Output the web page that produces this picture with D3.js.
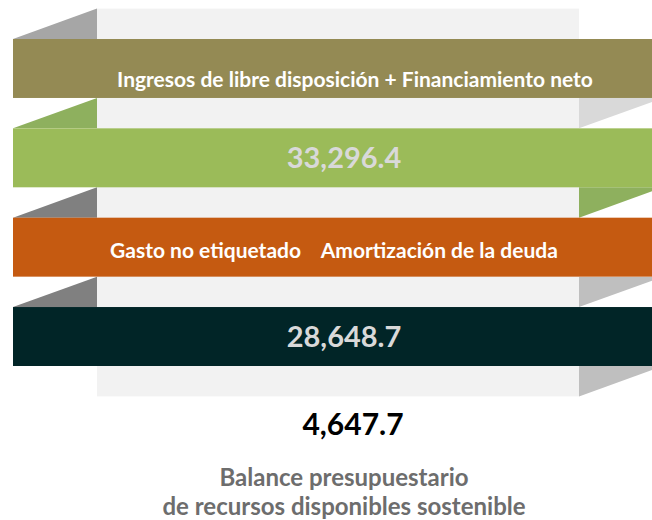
<!DOCTYPE html>
<html>
<head>
<meta charset="utf-8">
<script src="https://cdn.jsdelivr.net/npm/d3@7"></script>
<style>
  body { margin: 0; background: #fff; }
  text { font-family: Lato, "Open Sans", sans-serif; font-weight: bold; }
</style>
</head>
<body>
<div id="chart"></div>
<script>
// rows of the ribbon, top to bottom
var rows = ['ingresos', 'total', 'gasto', 'gastoTotal'];
var rowLabels = ['Ingresos de libre disposición + Financiamiento neto', null,
                 'Gasto no etiquetado    Amortización de la deuda', null];
var values = [null, 33296.4, null, 28648.7];
var balance = 4647.7;
var caption = ['Balance presupuestario', 'de recursos disponibles sostenible'];

var bandColors = ['#948a54', '#9bbb59', '#c55a11', '#012527'];
var leftFold = ['#a6a6a6', '#8eb05e', '#808080', '#808080'];
var rightFold = ['#d9d9d9', '#8eb05e', '#bfbfbf', '#bfbfbf'];

var width = 652, height = 520;
var x0 = 13, x1 = 663, panelX0 = 97, panelX1 = 579;

var fmt = d3.format(',.1f');

var y = d3.scaleBand().domain(rows).range([39, 366]).paddingInner(0.34).paddingOuter(0);
var gap = y.step() - y.bandwidth();

var svg = d3.select('#chart').append('svg')
    .attr('width', width)
    .attr('height', height);

// back panel
svg.append('rect')
    .attr('x', panelX0)
    .attr('y', y(rows[0]) - gap)
    .attr('width', panelX1 - panelX0)
    .attr('height', y(rows[3]) + y.bandwidth() + gap - (y(rows[0]) - gap))
    .attr('fill', '#f2f2f2');

// folds
svg.selectAll('.lfold')
    .data(rows)
    .enter()
    .append('path')
    .attr('class', 'lfold')
    .attr('fill', function(d, i) { return leftFold[i]; })
    .attr('d', function(d) {
        var t = y(d);
        return 'M' + x0 + ',' + t + 'L' + panelX0 + ',' + (t - gap) + 'L' + panelX0 + ',' + t + 'Z';
    });

svg.selectAll('.rfold')
    .data(rows)
    .enter()
    .append('path')
    .attr('class', 'rfold')
    .attr('fill', function(d, i) { return rightFold[i]; })
    .attr('d', function(d) {
        var b = y(d) + y.bandwidth();
        return 'M' + panelX1 + ',' + b + 'L' + (panelX1 + (panelX0 - x0)) + ',' + b +
            'L' + panelX1 + ',' + (b + gap) + 'Z';
    });

// bands
svg.selectAll('.band')
    .data(rows)
    .enter()
    .append('rect')
    .attr('class', 'band')
    .attr('x', x0)
    .attr('y', function(d) { return y(d); })
    .attr('width', x1 - x0)
    .attr('height', y.bandwidth())
    .attr('fill', function(d, i) { return bandColors[i]; });

// labels
svg.selectAll('.lbl')
    .data(rows.filter(function(d, i) { return rowLabels[i]; }))
    .enter()
    .append('text')
    .attr('class', 'lbl')
    .attr('xml:space', 'preserve')
    .attr('x', function(d) { return d == 'ingresos' ? 355 : 334; })
    .attr('y', function(d) { return y(d) + (d == 'ingresos' ? 48 : 40); })
    .attr('text-anchor', 'middle')
    .attr('fill', '#fff')
    .style('font-size', '21px')
    .text(function(d) { return rowLabels[rows.indexOf(d)]; });

svg.selectAll('.val')
    .data(rows.filter(function(d, i) { return values[i] != null; }))
    .enter()
    .append('text')
    .attr('class', 'val')
    .attr('x', 344)
    .attr('y', function(d) { return y(d) + y.bandwidth() / 2 + 10; })
    .attr('text-anchor', 'middle')
    .attr('fill', '#d9d9d9')
    .style('font-size', '29px')
    .text(function(d) { return fmt(values[rows.indexOf(d)]); });

// balance
svg.append('text')
    .attr('x', 353)
    .attr('y', 435)
    .attr('text-anchor', 'middle')
    .attr('fill', '#000')
    .style('font-size', '30px')
    .text(fmt(balance));

svg.selectAll('.cap')
    .data(caption)
    .enter()
    .append('text')
    .attr('class', 'cap')
    .attr('x', 344)
    .attr('y', function(d, i) { return 486 + i * 29; })
    .attr('text-anchor', 'middle')
    .attr('fill', '#6d6d6d')
    .style('font-size', '24px')
    .text(function(d) { return d; });
</script>
</body>
</html>
